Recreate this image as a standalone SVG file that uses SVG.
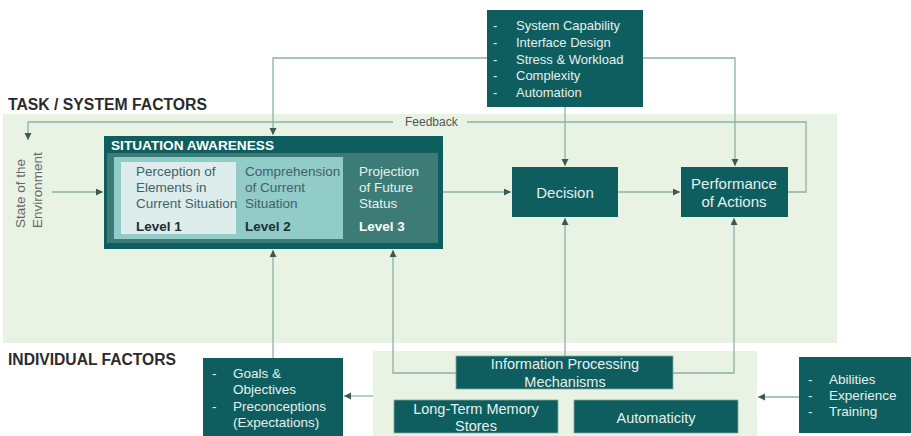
<svg xmlns="http://www.w3.org/2000/svg" width="911" height="436" viewBox="0 0 911 436">
<defs>
<style>
text{font-family:"Liberation Sans",Arial,sans-serif}
.box{fill:#0e5e5f}
.wt{fill:#e6f0ee;font-size:13px}
.ct{fill:#e6f0ee;font-size:15px;text-anchor:middle}
.ct2{fill:#e6f0ee;font-size:14.5px;text-anchor:middle}
.lv{font-size:13.5px}
.head{fill:#2b2b2b;font-size:16px;font-weight:bold}
.ln{fill:none;stroke:#8fb0a8;stroke-width:1.3}
.arr{marker-end:url(#ah)}
</style>
<marker id="ah" markerUnits="userSpaceOnUse" markerWidth="8" markerHeight="8" refX="7" refY="3.5" orient="auto">
<path d="M0,0 L7,3.5 L0,7 z" fill="#3b5a55"/>
</marker>
</defs>
<rect width="911" height="436" fill="#ffffff"/>
<!-- background zones -->
<rect x="3" y="114" width="834" height="229" fill="#e8f3e3"/>
<rect x="373" y="351" width="384" height="85" fill="#e8f3e3"/>
<text class="head" x="8" y="110" textLength="199" lengthAdjust="spacingAndGlyphs">TASK / SYSTEM FACTORS</text>
<text class="head" x="8" y="365" textLength="168" lengthAdjust="spacingAndGlyphs">INDIVIDUAL FACTORS</text>

<g id="connectors">
<path class="ln arr" d="M487,58 H273 V135"/>
<path class="ln arr" d="M643,58 H735 V166"/>
<path class="ln arr" d="M565,107 V166"/>
<path class="ln arr" d="M788,192 H806 V122 H467 M393,122 H28 V140"/>
<path class="ln arr" d="M52,192 H103"/>
<path class="ln arr" d="M443,192 H511"/>
<path class="ln arr" d="M618,192 H680"/>
<path class="ln arr" d="M273,358 V250"/>
<path class="ln arr" d="M456,373 H393 V250"/>
<path class="ln arr" d="M565,356 V218"/>
<path class="ln arr" d="M673,373 H734 V218"/>
<path class="ln arr" d="M373,396 H344"/>
<path class="ln arr" d="M799,397 H758"/>
<text x="405" y="126" fill="#555" font-size="12">Feedback</text>
</g>

<g id="state-env">
<text transform="translate(25,228) rotate(-90)" fill="#666" font-size="13.5">State of the</text>
<text transform="translate(42,228) rotate(-90)" fill="#666" font-size="13.5">Environment</text>
</g>

<g id="task-factors">
<rect class="box" x="487" y="10" width="156" height="97"/>
<text class="wt" x="493" y="30">-</text><text class="wt" x="516" y="30">System Capability</text>
<text class="wt" x="493" y="47">-</text><text class="wt" x="516" y="47">Interface Design</text>
<text class="wt" x="493" y="64">-</text><text class="wt" x="516" y="64">Stress &amp; Workload</text>
<text class="wt" x="493" y="80">-</text><text class="wt" x="516" y="80">Complexity</text>
<text class="wt" x="493" y="97">-</text><text class="wt" x="516" y="97">Automation</text>
</g>

<g id="situation-awareness">
<rect class="box" x="104" y="136" width="339" height="113"/>
<text x="111" y="150" fill="#ffffff" font-size="13" font-weight="bold" textLength="163" lengthAdjust="spacingAndGlyphs">SITUATION  AWARENESS</text>
<rect x="107" y="153" width="331" height="90" fill="#3d7b76"/>
<rect x="114" y="157" width="229" height="82" fill="#92ccc8"/>
<rect x="121" y="162" width="115" height="72" fill="#dcedec"/>
<g fill="#3f6168" class="lv">
<text x="136" y="176" class="lv">Perception of</text>
<text x="136" y="192" class="lv">Elements in</text>
<text x="136" y="208" class="lv">Current Situation</text>
<text x="136" y="231" class="lv" font-weight="bold" fill="#1f2f33">Level 1</text>
<text x="245" y="176" class="lv">Comprehension</text>
<text x="245" y="192" class="lv">of Current</text>
<text x="245" y="208" class="lv">Situation</text>
<text x="245" y="231" class="lv" font-weight="bold" fill="#1f2f33">Level 2</text>
</g>
<g fill="#e3f2f0">
<text x="359" y="176" class="lv">Projection</text>
<text x="359" y="192" class="lv">of Future</text>
<text x="359" y="208" class="lv">Status</text>
<text x="359" y="231" class="lv" font-weight="bold" fill="#ffffff">Level 3</text>
</g>
</g>

<g id="decision">
<rect class="box" x="512" y="167" width="106" height="50"/>
<text class="ct" x="565" y="198">Decision</text>
</g>

<g id="performance">
<rect class="box" x="681" y="167" width="107" height="50"/>
<text class="ct" x="734" y="189">Performance</text>
<text class="ct" x="734" y="207">of Actions</text>
</g>

<g id="goals">
<rect class="box" x="203" y="358" width="140" height="78"/>
<text class="wt lv" x="212" y="378">-</text><text class="wt lv" x="233" y="378">Goals &amp;</text>
<text class="wt lv" x="233" y="394">Objectives</text>
<text class="wt lv" x="212" y="411">-</text><text class="wt lv" x="233" y="411">Preconceptions</text>
<text class="wt lv" x="233" y="427">(Expectations)</text>
</g>

<g id="info-processing">
<rect class="box" x="456" y="356" width="217" height="33" stroke="#7fa8a0" stroke-width="0.8"/>
<text class="ct2" x="565" y="369">Information  Processing</text>
<text class="ct2" x="565" y="387">Mechanisms</text>
</g>

<g id="long-term-memory">
<rect class="box" x="394" y="400" width="164" height="33" stroke="#7fa8a0" stroke-width="0.8"/>
<text class="ct2" x="476" y="414">Long-Term  Memory</text>
<text class="ct2" x="476" y="431">Stores</text>
</g>

<g id="automaticity">
<rect class="box" x="574" y="400" width="164" height="33" stroke="#7fa8a0" stroke-width="0.8"/>
<text class="ct2" x="656" y="423">Automaticity</text>
</g>

<g id="abilities">
<rect class="box" x="799" y="357" width="112" height="76"/>
<text class="wt lv" x="808" y="384">-</text><text class="wt lv" x="829" y="384">Abilities</text>
<text class="wt lv" x="808" y="400">-</text><text class="wt lv" x="829" y="400">Experience</text>
<text class="wt lv" x="808" y="416">-</text><text class="wt lv" x="829" y="416">Training</text>
</g>
</svg>
